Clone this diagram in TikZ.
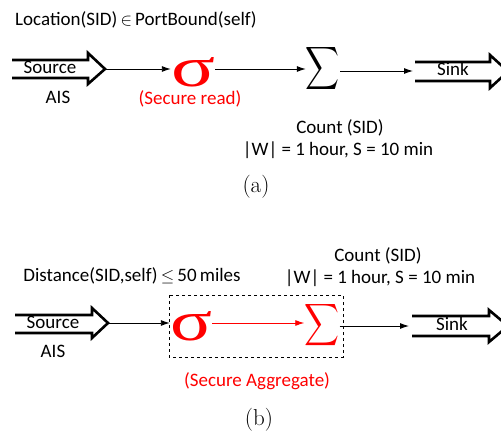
\documentclass[tikz,border=0pt]{standalone}
\usepackage{fontspec}
\usepackage{graphicx}
\usetikzlibrary{arrows.meta}
\newfontfamily\calfont{Carlito}
\newfontfamily\serfont{Liberation Serif}
\definecolor{myred}{RGB}{255,0,0}
\newcommand{\bigsum}[2]{\resizebox*{#1}{#2}{$\displaystyle\sum$}}
\begin{document}
\begin{tikzpicture}[x=1pt,y=-1pt,
  lbl/.style={font=\calfont\fontsize{19}{22}\selectfont, inner sep=0pt, anchor=center},
  redlbl/.style={lbl, text=myred},
  captxt/.style={font=\fontsize{23}{26}\selectfont, inner sep=0pt},
  conn/.style={line width=0.9pt, -{Latex[length=9pt,width=6pt]}},
  redconn/.style={conn, draw=myred, fill=myred},
  fat/.style={line width=2.6pt, line join=miter, miter limit=10},
  opnode/.style={inner sep=0pt, text=myred}
]
\useasboundingbox (0,0) rectangle (501,436);

% ---------------- (a) ----------------
\node[lbl] (cond1) at (136,20) {Location(SID)\,$\in$\,PortBound(self)};
% source arrow
\draw[fat] (12,60) -- (88,60) -- (88,53) -- (105,69) -- (88,84) -- (88,78) -- (12,78);
\coordinate (srcA) at (105,69);
\node[lbl] (srcAt) at (50,67) {Source};
\node[lbl] (aisA) at (58,97) {AIS};
\node[opnode] (sigA) at (193,72) {\resizebox{44pt}{29pt}{\serfont σ}};
\node[redlbl] (secA) at (190,99) {(Secure read)};
\node[inner sep=0pt] (sumA) at (323,69) {\bigsum{34pt}{48pt}};
\coordinate (snkA) at (413,71);
\draw[fat] (415,62) -- (490,62) -- (490,55) -- (508,71.5) -- (490,88) -- (490,81) -- (415,81);
\node[lbl] (snkAt) at (453,69) {Sink};
\draw[conn] (srcA) -- (sigA.west |- srcA);
\draw[conn] (sigA.east |- 0,69) -- (sumA.west |- 0,69);
\draw[conn] (sumA.east |- snkA) -- (snkA);
\node[lbl] (cntA) at (340,128) {Count (SID)};
\node[lbl] (winA) at (338,150) {|W| = 1 hour, S = 10 min};
\node[captxt] (capA) at (256,187) {(a)};

% ---------------- (b) ----------------
\node[lbl] (cond2) at (132,276) {Distance(SID,self)\,$\leq$\,50\,miles};
\draw[fat] (15,315) -- (92,315) -- (92,308) -- (108,323) -- (92,338) -- (92,333) -- (15,333);
\coordinate (srcB) at (108,323);
\node[lbl] (srcBt) at (53,322) {Source};
\node[lbl] (aisB) at (53,351) {AIS};
\node[opnode] (sigB) at (191,326) {\resizebox{42pt}{29pt}{\serfont σ}};
\node[opnode] (sumB) at (322,325) {\bigsum{35pt}{47pt}};
\draw[dashed, line width=0.8pt] (169,295) rectangle (343,357);
\node[redlbl] (secB) at (257,381) {(Secure Aggregate)};
\coordinate (snkB) at (409,326);
\draw[fat] (412,316) -- (489,316) -- (489,310) -- (508,326) -- (489,342) -- (489,336) -- (412,336);
\node[lbl] (snkBt) at (452,324) {Sink};
\draw[conn] (srcB) -- (sigB.west |- srcB);
\draw[redconn] (sigB.east |- 0,323) -- (sumB.west |- 0,323);
\draw[conn] (sumB.east |- snkB) -- (snkB);
\node[lbl] (cntB) at (378,256) {Count (SID)};
\node[lbl] (winB) at (380,278) {|W| = 1 hour, S = 10 min};
\node[captxt] (capB) at (259,420) {(b)};
\end{tikzpicture}
\end{document}
